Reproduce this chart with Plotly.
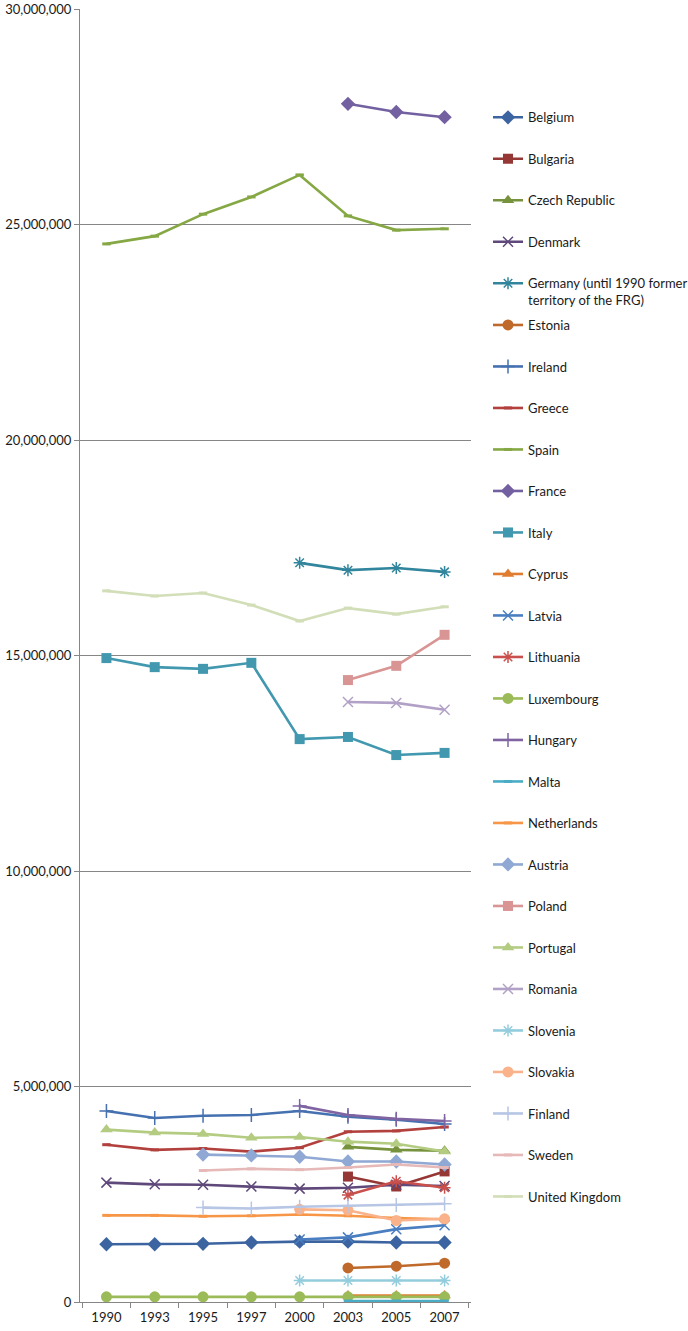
import plotly.graph_objects as go

years = ["1990", "1993", "1995", "1997", "2000", "2003", "2005", "2007"]
N = None
# values in millions of persons
belgium = [1.34, 1.34, 1.35, 1.38, 1.40, 1.40, 1.38, 1.38]
bulgaria = [N, N, N, N, N, 2.91, 2.68, 3.03]
czech = [N, N, N, N, N, 3.60, 3.53, 3.51]
denmark = [2.77, 2.73, 2.72, 2.68, 2.63, 2.65, 2.72, 2.69]
germany = [N, N, N, N, 17.15, 16.98, 17.03, 16.94]
estonia = [N, N, N, N, N, 0.79, 0.83, 0.90]
ireland = [4.43, 4.27, 4.32, 4.34, 4.43, 4.30, 4.23, 4.13]
greece = [3.65, 3.53, 3.56, 3.49, 3.58, 3.95, 3.97, 4.06]
spain = [24.55, 24.73, 25.24, 25.64, 26.15, 25.20, 24.87, 24.90]
france = [N, N, N, N, N, 27.80, 27.61, 27.49]
italy = [14.94, 14.73, 14.69, 14.83, 13.06, 13.11, 12.69, 12.74]
cyprus = [N, N, N, N, N, 0.15, 0.15, 0.15]
latvia = [N, N, N, N, 1.45, 1.50, 1.69, 1.78]
lithuania = [N, N, N, N, N, 2.48, 2.80, 2.65]
luxembourg = [0.12, 0.12, 0.12, 0.12, 0.12, 0.12, 0.12, 0.12]
hungary = [N, N, N, N, 4.55, 4.34, 4.25, 4.20]
malta = [N, N, N, N, N, 0.02, 0.02, 0.02]
netherlands = [2.01, 2.01, 1.99, 2.00, 2.03, 2.00, 1.95, 1.92]
austria = [N, N, 3.42, 3.40, 3.37, 3.26, 3.26, 3.19]
poland = [N, N, N, N, N, 14.43, 14.76, 15.48]
portugal = [4.00, 3.93, 3.90, 3.81, 3.83, 3.72, 3.67, 3.49]
romania = [N, N, N, N, N, 13.92, 13.90, 13.74]
slovenia = [N, N, N, N, 0.50, 0.50, 0.50, 0.50]
slovakia = [N, N, N, N, 2.15, 2.13, 1.89, 1.93]
finland = [N, N, 2.19, 2.17, 2.21, 2.23, 2.25, 2.28]
sweden = [N, N, 3.05, 3.09, 3.07, 3.12, 3.19, 3.12]
uk = [16.50, 16.38, 16.45, 16.17, 15.80, 16.10, 15.96, 16.13]

series = [
    ("Belgium", belgium, "#3B64A0", "diamond"),
    ("Bulgaria", bulgaria, "#953735", "square"),
    ("Czech Republic", czech, "#76923C", "triangle-up"),
    ("Denmark", denmark, "#5F497A", "x-thin"),
    ("Germany (until 1990 former<br>territory of the FRG)", germany, "#31859C", "asterisk"),
    ("Estonia", estonia, "#BF6A2A", "circle"),
    ("Ireland", ireland, "#4571B0", "cross-thin"),
    ("Greece", greece, "#B2403D", "line-ew"),
    ("Spain", spain, "#85A844", "line-ew"),
    ("France", france, "#7360A0", "diamond"),
    ("Italy", italy, "#4198AF", "square"),
    ("Cyprus", cyprus, "#E07C30", "triangle-up"),
    ("Latvia", latvia, "#4A7EC0", "x-thin"),
    ("Lithuania", lithuania, "#C9504C", "asterisk"),
    ("Luxembourg", luxembourg, "#9BBB59", "circle"),
    ("Hungary", hungary, "#8064A2", "cross-thin"),
    ("Malta", malta, "#4BACC6", "line-ew"),
    ("Netherlands", netherlands, "#F79646", "line-ew"),
    ("Austria", austria, "#8FA8D4", "diamond"),
    ("Poland", poland, "#D99594", "square"),
    ("Portugal", portugal, "#B3CC82", "triangle-up"),
    ("Romania", romania, "#B2A1C7", "x-thin"),
    ("Slovenia", slovenia, "#93CDDD", "asterisk"),
    ("Slovakia", slovakia, "#FAB28A", "circle"),
    ("Finland", finland, "#B7C6E5", "cross-thin"),
    ("Sweden", sweden, "#E6B9B8", "line-ew"),
    ("United Kingdom", uk, "#D2DEB8", "line-ew"),
]

sizes = {"diamond": 11, "square": 10, "triangle-up": 11, "circle": 11,
         "x-thin": 10, "asterisk": 10, "cross-thin": 10, "line-ew": 6}

fig = go.Figure()
for i, (name, vals, color, sym) in enumerate(series):
    yv = [v * 1e6 if v is not None else None for v in vals]
    open_sym = sym in ("x-thin", "cross-thin", "asterisk", "line-ew")
    lw = 0
    if open_sym:
        lw = 3 if sym == "line-ew" else 1.5
    marker = dict(symbol=sym, size=sizes[sym], color=color,
                  line=dict(color=color, width=lw))
    fig.add_trace(go.Scatter(
        x=years, y=yv, name=name, mode="lines+markers",
        line=dict(color=color, width=2.6),
        marker=marker,
        legendgroup=f"g{i}",
        legend="legend" if i < 5 else "legend2",
    ))

font = dict(family="Lato, Carlito, 'Open Sans', sans-serif", size=13, color="#1a1a1a")
fig.update_layout(
    width=688, height=1331,
    margin=dict(l=80, r=217, t=9, b=29, autoexpand=False),
    paper_bgcolor="white", plot_bgcolor="white",
    font=font,
    showlegend=True,
    xaxis=dict(type="category", showgrid=False, showline=True, linecolor="#868686",
               linewidth=1, ticks="outside", tickson="boundaries", ticklen=5,
               tickcolor="#868686", tickfont=font, fixedrange=True,
               automargin=False, ticklabelstandoff=3),
    yaxis=dict(range=[0, 30e6], dtick=5e6, tickformat=",d", showgrid=True,
               gridcolor="#868686", gridwidth=1, showline=True, linecolor="#868686",
               ticks="outside", ticklen=5, tickcolor="#868686", zeroline=False,
               tickfont=font, automargin=False),
    legend=dict(x=1.0435, xanchor="left", y=0.9278, yanchor="top",
                traceorder="grouped", tracegroupgap=21.6, valign="top",
                font=font, bgcolor="rgba(0,0,0,0)"),
    legend2=dict(x=1.0435, xanchor="left", y=0.7672, yanchor="top",
                 traceorder="grouped", tracegroupgap=21.6,
                 font=font, bgcolor="rgba(0,0,0,0)"),
)

fig.write_html("out.html")
